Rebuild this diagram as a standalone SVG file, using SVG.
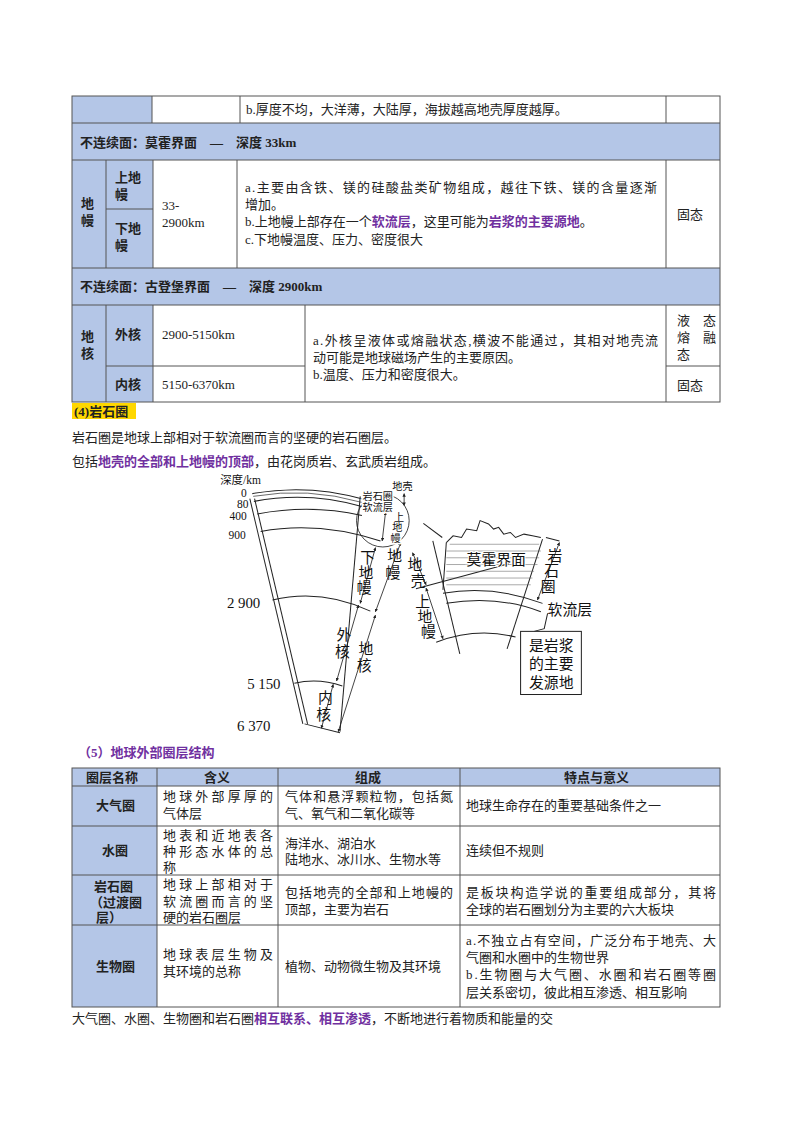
<svg xmlns="http://www.w3.org/2000/svg" width="800" height="1132" viewBox="0 0 800 1132">
<style>
text{font-family:"Liberation Serif","Noto Sans CJK SC",serif;font-size:13px;fill:#222}
.b{font-weight:bold}
.p{fill:#7030a0;font-weight:bold}
.bl{fill:#b4c6e7}
.g{stroke:#555;stroke-width:1;fill:none}
.d{stroke:#222;stroke-width:3;fill:none}
.a{stroke:#222;stroke-width:2.5;fill:none;marker-end:url(#ah);marker-start:url(#ah)}
.dt{font-size:44px;fill:#111}
.dn{font-size:34px;fill:#111}
.dh{font-size:30px;fill:#111}
</style>
<defs>
<marker id="ah" viewBox="0 0 10 10" refX="9" refY="5" markerWidth="4" markerHeight="4" orient="auto-start-reverse"><path d="M0 0 L10 5 L0 10 z" fill="#222"/></marker>
</defs>
<rect width="800" height="1132" fill="#fff"/>
<g id="table1">
<rect class="bl" x="72" y="96" width="80" height="27"/>
<rect class="bl" x="72" y="123" width="648" height="37"/>
<rect class="bl" x="72" y="160" width="81" height="108"/>
<rect class="bl" x="72" y="268" width="648" height="37"/>
<rect class="bl" x="72" y="305" width="81" height="97"/>
<g class="g">
<rect x="72" y="96" width="648" height="306"/>
<line x1="72" y1="123" x2="720" y2="123"/><line x1="72" y1="160" x2="720" y2="160"/>
<line x1="72" y1="268" x2="720" y2="268"/><line x1="72" y1="305" x2="720" y2="305"/>
<line x1="152" y1="96" x2="152" y2="123"/><line x1="240" y1="96" x2="240" y2="123"/><line x1="666" y1="96" x2="666" y2="123"/>
<line x1="106" y1="160" x2="106" y2="268"/><line x1="153" y1="160" x2="153" y2="268"/><line x1="237" y1="160" x2="237" y2="268"/><line x1="666" y1="160" x2="666" y2="268"/>
<line x1="106" y1="209" x2="153" y2="209"/>
<line x1="106" y1="305" x2="106" y2="402"/><line x1="153" y1="305" x2="153" y2="402"/><line x1="305" y1="305" x2="305" y2="402"/><line x1="666" y1="305" x2="666" y2="402"/>
<line x1="106" y1="366" x2="305" y2="366"/><line x1="666" y1="366" x2="720" y2="366"/>
</g>
<text x="246" y="114">b.厚度不均，大洋薄，大陆厚，海拔越高地壳厚度越厚。</text>
<text x="80" y="147" class="b">不连续面：莫霍界面　—　深度 33km</text>
<text class="b"><tspan x="81" y="208">地</tspan><tspan x="81" y="225">幔</tspan></text>
<text class="b"><tspan x="115" y="182">上地</tspan><tspan x="115" y="199">幔</tspan><tspan x="115" y="233">下地</tspan><tspan x="115" y="250">幔</tspan></text>
<text><tspan x="162" y="210">33-</tspan><tspan x="162" y="227">2900km</tspan></text>
<text><tspan x="245" y="192" textLength="412">a.主要由含铁、镁的硅酸盐类矿物组成，越往下铁、镁的含量逐渐</tspan><tspan x="245" y="209">增加。</tspan><tspan x="245" y="226">b.上地幔上部存在一个<tspan class="p">软流层</tspan>，这里可能为<tspan class="p">岩浆的主要源地</tspan>。</tspan><tspan x="245" y="244">c.下地幔温度、压力、密度很大</tspan></text>
<text x="677" y="219">固态</text>
<text x="80" y="291" class="b">不连续面：古登堡界面　—　深度 2900km</text>
<text class="b"><tspan x="81" y="341">地</tspan><tspan x="81" y="358">核</tspan></text>
<text x="115" y="339" class="b">外核</text><text x="115" y="389" class="b">内核</text>
<text x="162" y="339">2900-5150km</text><text x="162" y="389">5150-6370km</text>
<text><tspan x="313" y="345" textLength="345">a.外核呈液体或熔融状态,横波不能通过，其相对地壳流</tspan><tspan x="313" y="362">动可能是地球磁场产生的主要原因。</tspan><tspan x="313" y="379">b.温度、压力和密度很大。</tspan></text>
<text><tspan x="677" y="325">液　态</tspan><tspan x="677" y="342">熔　融</tspan><tspan x="677" y="359">态</tspan></text>
<text x="677" y="390">固态</text>
</g>
<g id="text4">
<rect x="72" y="403" width="64" height="16" fill="#ffd700"/>
<text x="74" y="416" class="b">(4)岩石圈</text>
<text x="72" y="442">岩石圈是地球上部相对于软流圈而言的坚硬的岩石圈层。</text>
<text x="72" y="466">包括<tspan class="p">地壳的全部和上地幔的顶部</tspan>，由花岗质岩、玄武质岩组成。</text>
</g>
<g id="figure" transform="translate(210,470) scale(0.3376)">
<g class="d">
<path d="M118 85 L275 752"/><path d="M132 85 L289 752"/>
<path d="M445 78 L385 775"/>
<path d="M125 70 Q290 40 452 86"/>
<path d="M128 78 Q290 50 450 96" stroke-width="2"/>
<path d="M130 93 Q290 62 450 108"/>
<path d="M140 130 Q300 100 450 135"/>
<path d="M150 182 Q320 150 505 210"/>
<path d="M185 385 Q330 350 475 418"/>
<path d="M250 632 Q320 615 392 640"/>
<path d="M280 752 L385 778"/>
<circle cx="512" cy="150" r="78" stroke-width="2.5"/>
<path d="M632 158 L688 200"/>
<path d="M700 215 L720 195 L745 200 L760 175 L790 180 L800 150 L825 160 L840 175 L855 170 L870 190 L890 185 L905 200 L930 190 L955 195 L980 200"/>
<path d="M700 215 L690 355"/>
<path d="M660 210 L740 545"/>
<path d="M985 205 L880 530"/>
<path d="M690 365 Q840 340 985 395"/>
<path d="M700 395 Q850 370 980 420"/>
<path d="M670 510 Q790 465 905 495"/>
<path d="M610 352 L885 278"/>
<path d="M995 200 L1035 210"/>
<path d="M1000 425 L990 470 L960 478"/>
</g>
<g stroke="#555" stroke-width="1.5">
<line x1="700" y1="240" x2="980" y2="240"/><line x1="700" y1="260" x2="975" y2="260"/>
<line x1="700" y1="280" x2="970" y2="280"/><line x1="700" y1="300" x2="960" y2="300"/>
<line x1="700" y1="320" x2="955" y2="320"/><line x1="700" y1="340" x2="950" y2="340"/>
<line x1="710" y1="220" x2="975" y2="220"/>
</g>
<g id="dims">
<line class="a" x1="510" y1="210" x2="520" y2="125"/>
<line class="a" x1="490" y1="230" x2="445" y2="395"/>
<line class="a" x1="440" y1="400" x2="375" y2="625"/>
<line class="a" x1="365" y1="635" x2="330" y2="765"/>
<line class="a" x1="565" y1="215" x2="490" y2="420"/>
<line class="a" x1="490" y1="430" x2="380" y2="775"/>
<line class="a" x1="575" y1="70" x2="575" y2="105"/>
<line class="a" x1="1035" y1="215" x2="970" y2="385"/>
<line class="a" x1="600" y1="245" x2="640" y2="340"/>
<line class="a" x1="640" y1="350" x2="690" y2="500"/>
</g>
<rect x="920" y="478" width="180" height="187" fill="#fff" stroke="#222" stroke-width="3"/>
<text class="dt"><tspan x="945" y="535">是岩浆</tspan><tspan x="945" y="590">的主要</tspan><tspan x="945" y="645">发源地</tspan></text>
<text class="dn" x="30" y="42">深度/km</text>
<text class="dn" x="92" y="80">0</text><text class="dn" x="80" y="112">80</text>
<text class="dn" x="58" y="148">400</text><text class="dn" x="55" y="203">900</text>
<text class="dt" x="50" y="410">2 900</text><text class="dt" x="110" y="650">5 150</text>
<text class="dt" x="80" y="772">6 370</text>
<text class="dh" x="452" y="90" fill="#fff" stroke="#fff" stroke-width="8">岩石圈</text>
<text class="dh" x="452" y="90">岩石圈</text>
<text class="dh" x="452" y="122" fill="#fff" stroke="#fff" stroke-width="8">软流层</text>
<text class="dh" x="452" y="122">软流层</text>
<text class="dh" x="540" y="60">地壳</text>
<text class="dh" fill="#fff" stroke="#fff" stroke-width="8"><tspan x="545" y="150">上</tspan><tspan x="540" y="182">地</tspan><tspan x="535" y="212">幔</tspan></text>
<text class="dh"><tspan x="545" y="150">上</tspan><tspan x="540" y="182">地</tspan><tspan x="535" y="212">幔</tspan></text>
<text class="dt"><tspan x="445" y="275">下</tspan><tspan x="440" y="320">地</tspan><tspan x="435" y="365">幔</tspan></text>
<text class="dt"><tspan x="525" y="270">地</tspan><tspan x="520" y="320">幔</tspan></text>
<text class="dt"><tspan x="375" y="505">外</tspan><tspan x="370" y="555">核</tspan></text>
<text class="dt"><tspan x="440" y="545">地</tspan><tspan x="435" y="595">核</tspan></text>
<text class="dt"><tspan x="320" y="690">内</tspan><tspan x="315" y="740">核</tspan></text>
<text class="dt"><tspan x="585" y="295">地</tspan><tspan x="595" y="345">壳</tspan></text>
<text class="dt"><tspan x="608" y="405">上</tspan><tspan x="615" y="450">地</tspan><tspan x="625" y="495">幔</tspan></text>
<text class="dt" x="760" y="280" fill="#fff" stroke="#fff" stroke-width="6">莫霍界面</text>
<text class="dt" x="760" y="280">莫霍界面</text>
<text class="dt"><tspan x="1000" y="270">岩</tspan><tspan x="990" y="315">石</tspan><tspan x="980" y="360">圈</tspan></text>
<text class="dt" x="1000" y="430">软流层</text>
</g>
<g id="table2">
<text x="78" y="757" class="p">（5）地球外部圈层结构</text>
<rect class="bl" x="72" y="768" width="648" height="18"/>
<rect class="bl" x="72" y="786" width="85" height="221"/>
<g class="g">
<rect x="72" y="768" width="648" height="239"/>
<line x1="72" y1="786" x2="720" y2="786"/><line x1="72" y1="826" x2="720" y2="826"/>
<line x1="72" y1="875" x2="720" y2="875"/><line x1="72" y1="925" x2="720" y2="925"/>
<line x1="157" y1="768" x2="157" y2="1007"/><line x1="278" y1="768" x2="278" y2="1007"/><line x1="460" y1="768" x2="460" y2="1007"/>
</g>
<text class="b" x="86" y="782">圈层名称</text><text class="b" x="204" y="782">含义</text>
<text class="b" x="355" y="782">组成</text><text class="b" x="564" y="782">特点与意义</text>
<text class="b" x="96" y="810">大气圈</text><text class="b" x="102" y="855">水圈</text>
<text class="b"><tspan x="94" y="891">岩石圈</tspan><tspan x="90" y="907">（过渡圈</tspan><tspan x="96" y="922">层）</tspan></text>
<text class="b" x="96" y="971">生物圈</text>
<text><tspan x="163" y="801" textLength="110">地球外部厚厚的</tspan><tspan x="163" y="818">气体层</tspan></text>
<text><tspan x="163" y="840" textLength="110">地表和近地表各</tspan><tspan x="163" y="856" textLength="110">种形态水体的总</tspan><tspan x="163" y="872">称</tspan></text>
<text><tspan x="163" y="889" textLength="110">地球上部相对于</tspan><tspan x="163" y="906" textLength="110">软流圈而言的坚</tspan><tspan x="163" y="922">硬的岩石圈层</tspan></text>
<text><tspan x="163" y="959" textLength="110">地球表层生物及</tspan><tspan x="163" y="976">其环境的总称</tspan></text>
<text><tspan x="285" y="801" textLength="168">气体和悬浮颗粒物，包括氮</tspan><tspan x="285" y="818">气、氧气和二氧化碳等</tspan></text>
<text><tspan x="285" y="848">海洋水、湖泊水</tspan><tspan x="285" y="864">陆地水、冰川水、生物水等</tspan></text>
<text><tspan x="285" y="897" textLength="168">包括地壳的全部和上地幔的</tspan><tspan x="285" y="914">顶部，主要为岩石</tspan></text>
<text x="285" y="971">植物、动物微生物及其环境</text>
<text x="466" y="810">地球生命存在的重要基础条件之一</text>
<text x="466" y="855">连续但不规则</text>
<text><tspan x="466" y="897" textLength="250">是板块构造学说的重要组成部分，其将</tspan><tspan x="466" y="914">全球的岩石圈划分为主要的六大板块</tspan></text>
<text><tspan x="466" y="945" textLength="250">a.不独立占有空间，广泛分布于地壳、大</tspan><tspan x="466" y="962">气圈和水圈中的生物世界</tspan><tspan x="466" y="979" textLength="250">b.生物圈与大气圈、水圈和岩石圈等圈</tspan><tspan x="466" y="997">层关系密切，彼此相互渗透、相互影响</tspan></text>
<text x="72" y="1023">大气圈、水圈、生物圈和岩石圈<tspan class="p">相互联系、相互渗透</tspan>，不断地进行着物质和能量的交</text>
</g>
</svg>
